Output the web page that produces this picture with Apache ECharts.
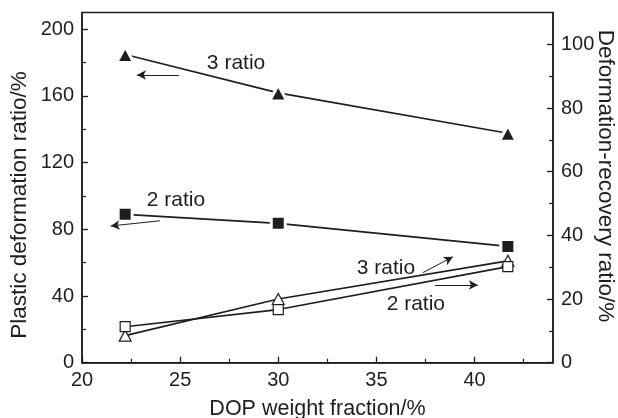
<!DOCTYPE html>
<html>
<head>
<meta charset="utf-8">
<script src="https://cdn.jsdelivr.net/npm/echarts@6/dist/echarts.min.js"></script>
<style>
  html, body { margin: 0; padding: 0; background: #fff; }
  #chart { width: 618px; height: 418px; }
</style>
</head>
<body>
<div id="chart"></div>
<script>
// DOP weight fraction (%) for the three samples
const dopFraction = [22.2, 30, 41.7];
// Plastic deformation ratio (%), left axis
const plastic3 = [184.8, 161.8, 137.6];
const plastic2 = [89.0, 83.6, 69.7];
// Deformation-recovery ratio (%), right axis
const recovery3 = [8.5, 20.0, 32.0];
const recovery2 = [11.3, 16.7, 30.2];

// Axis tick values
const xMajor = [20, 25, 30, 35, 40];
const xMinor = [22.5, 27.5, 32.5, 37.5, 42.5];
const leftMajor = [0, 40, 80, 120, 160, 200];
const leftMinor = [20, 60, 100, 140, 180];
const rightMajor = [0, 20, 40, 60, 80, 100];
const rightMinor = [10, 30, 50, 70, 90];

// Curve labels with their pointer arrows, in (DOP %, left-axis %) units
const labelText = ['3 ratio', '2 ratio', '3 ratio', '2 ratio'];
const labelAt = [[27.85, 179.7], [24.79, 97.5], [35.49, 56.8], [37.01, 35.2]];
const arrowFrom = [[24.94, 172.5], [23.97, 85.1], [37.37, 54.0], [37.98, 46.6]];
const arrowTo = [[22.80, 172.5], [21.46, 82.0], [38.90, 63.5], [40.17, 46.6]];

const INK = '#1e1e1e';
const FONT = '"Liberation Sans", Arial, Helvetica, sans-serif';

const pairs = (xs, ys) => xs.map((x, i) => [x, ys[i]]);

const chart = echarts.init(document.getElementById('chart'), null, { renderer: 'canvas' });

function majorAxisBase(min, max) {
  return {
    type: 'value', min: min, max: max,
    splitLine: { show: false },
    axisLine: { show: true, onZero: false, lineStyle: { color: INK, width: 1.5 } },
    axisTick: { show: true, inside: true, length: 6, lineStyle: { color: INK, width: 1.3 } },
    axisLabel: { color: INK, fontSize: 20, fontFamily: FONT }
  };
}
function minorAxis(min, max, pos, values) {
  return {
    type: 'value', min: min, max: max, position: pos,
    splitLine: { show: false },
    axisLine: { show: false },
    axisLabel: { show: false },
    axisTick: { show: true, inside: true, length: 4, customValues: values, lineStyle: { color: INK, width: 1.2 } }
  };
}

const xMain = majorAxisBase(20, 44);
xMain.position = 'bottom';
xMain.axisTick.customValues = xMajor;
xMain.axisLabel.customValues = xMajor;
xMain.axisLabel.margin = 8;
xMain.name = 'DOP weight fraction/%';
xMain.nameLocation = 'middle';
xMain.nameGap = 35;
xMain.nameTextStyle = { color: INK, fontSize: 21.5, fontFamily: FONT };

const yLeft = majorAxisBase(0, 210);
yLeft.position = 'left';
yLeft.axisTick.customValues = leftMajor;
yLeft.axisLabel.customValues = leftMajor;
yLeft.axisLabel.margin = 8;

const yRight = majorAxisBase(0, 110);
yRight.position = 'right';
yRight.axisTick.customValues = rightMajor;
yRight.axisLabel.customValues = rightMajor;
yRight.axisLabel.margin = 8;

function lineSeries(name, yAxisIndex, data, symbol, size, filled) {
  return {
    name: name, type: 'line', xAxisIndex: 0, yAxisIndex: yAxisIndex,
    data: pairs(dopFraction, data),
    symbol: symbol, symbolSize: size, showAllSymbol: true,
    lineStyle: { color: INK, width: 1.7 },
    itemStyle: filled
      ? { color: INK, borderColor: '#fff', borderWidth: 3 }
      : { color: '#fff', borderColor: INK, borderWidth: 1.2 },
    emphasis: { disabled: true },
    animation: false, z: 3
  };
}

const arrowSeries = {
  name: 'pointers', type: 'line', xAxisIndex: 0, yAxisIndex: 0, data: [],
  markLine: {
    silent: true, animation: false,
    symbol: ['none', 'arrow'], symbolSize: [7, 9],
    label: { show: false },
    lineStyle: { color: INK, width: 1, type: 'solid' },
    emphasis: { disabled: true },
    data: arrowFrom.map((p, i) => [{ coord: p }, { coord: arrowTo[i] }])
  }
};

chart.setOption({
  animation: false,
  backgroundColor: '#fff',
  grid: {
    left: 82, right: 65, top: 12.5, bottom: 55.3,
    outerBoundsMode: 'none', containLabel: false,
    show: true, borderColor: INK, borderWidth: 1.5
  },
  xAxis: [xMain, minorAxis(20, 44, 'bottom', xMinor)],
  yAxis: [yLeft, yRight, minorAxis(0, 210, 'left', leftMinor), minorAxis(0, 110, 'right', rightMinor)],
  series: [
    lineSeries('3 ratio plastic', 0, plastic3, 'triangle', [17, 16], true),
    lineSeries('2 ratio plastic', 0, plastic2, 'rect', [14, 14], true),
    lineSeries('3 ratio recovery', 1, recovery3, 'triangle', [12, 11], false),
    lineSeries('2 ratio recovery', 1, recovery2, 'rect', [10, 10], false),
    arrowSeries
  ]
});

// Curve labels, placed through the axes' own scales
const curveLabels = labelText.map((t, i) => {
  const p = chart.convertToPixel({ xAxisIndex: 0, yAxisIndex: 0 }, labelAt[i]);
  return {
    type: 'text', x: p[0], y: p[1], silent: true,
    style: { text: t, fill: INK, fontSize: 21, fontFamily: FONT, align: 'center', verticalAlign: 'middle' }
  };
});

// Vertical axis titles beside the left and right axes
const axisTitles = [
  { type: 'text', x: 20, y: 205, rotation: Math.PI / 2, silent: true,
    style: { text: 'Plastic deformation ratio/%', fill: INK, fontSize: 22.5, fontFamily: FONT, align: 'center', verticalAlign: 'middle' } },
  { type: 'text', x: 605, y: 176, rotation: -Math.PI / 2, silent: true,
    style: { text: 'Deformation-recovery ratio/%', fill: INK, fontSize: 22.5, fontFamily: FONT, align: 'center', verticalAlign: 'middle' } }
];

chart.setOption({ graphic: curveLabels.concat(axisTitles) });
</script>
</body>
</html>
